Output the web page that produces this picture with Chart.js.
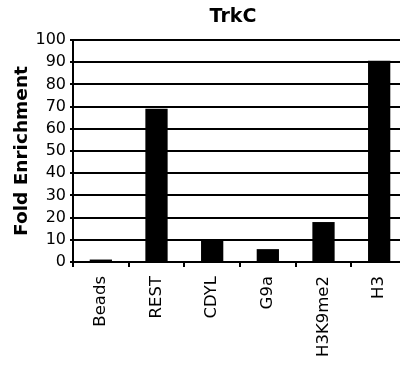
<!DOCTYPE html>
<html>
<head>
<meta charset="utf-8">
<script src="https://cdn.jsdelivr.net/npm/chart.js@4/dist/chart.umd.min.js"></script>
<style>
  html, body { margin: 0; padding: 0; background: #fff; overflow: hidden; }
  canvas { display: block; }
</style>
</head>
<body>
<canvas id="grafico" width="466" height="371"></canvas>
<script>
const categories = ["Beads", "REST", "CDYL", "G9a", "H3K9me2", "H3"];
const foldEnrichment = [1.1, 69, 10.2, 5.8, 18, 90.6];
const yTicks = [0, 10, 20, 30, 40, 50, 60, 70, 80, 90, 100];

const ctx = document.getElementById("grafico").getContext("2d");

// el titulo va centrado sobre todo el lienzo, no sobre el area con padding
const tituloCentrado = {
  id: "tituloCentrado",
  afterLayout: (chart) => {
    const t = chart.titleBlock;
    if (t) {
      t.left = 0;
      t.right = chart.width;
      t.width = chart.width;
    }
  },
};

const grafico = new Chart(ctx, {
  type: "bar",
  data: {
    labels: categories,
    datasets: [
      {
        data: foldEnrichment,
        backgroundColor: "#000",
        borderWidth: 0,
        barPercentage: 0.4,
        categoryPercentage: 1,
      },
    ],
  },
  plugins: [tituloCentrado],
  options: {
    responsive: false,
    animation: false,
    devicePixelRatio: 1,
    layout: { padding: { top: 0, right: 59, bottom: 0, left: 0 } },
    plugins: {
      legend: { display: false },
      tooltip: { enabled: false },
      title: {
        display: true,
        text: "TrkC",
        color: "#000",
        font: { family: "DejaVu Sans", size: 19, weight: "bold" },
        padding: { top: 5.5, bottom: 11.7 },
      },
    },
    scales: {
      x: {
        grid: {
          display: true,
          drawOnChartArea: false,
          drawTicks: true,
          tickLength: 5,
          color: "#000",
          lineWidth: 2,
          offset: true,
        },
        border: { display: true, color: "#000", width: 2 },
        ticks: {
          color: "#000",
          font: { family: "DejaVu Sans", size: 16.5 },
          minRotation: 90,
          maxRotation: 90,
          padding: 9,
        },
        afterFit: (scale) => {
          scale.height = 109;
        },
      },
      y: {
        min: 0,
        max: 100,
        afterBuildTicks: (scale) => {
          scale.ticks = yTicks.map((v) => ({ value: v }));
        },
        grid: {
          color: "#000",
          lineWidth: 2,
          tickLength: 3,
        },
        border: { display: true, color: "#000", width: 2 },
        ticks: {
          color: "#000",
          font: { family: "DejaVu Sans", size: 16 },
          padding: 4,
        },
        title: {
          display: true,
          text: "Fold Enrichment",
          color: "#000",
          font: { family: "DejaVu Sans", size: 18.5, weight: "bold" },
          padding: { top: 11, bottom: 0 },
        },
        afterFit: (scale) => {
          scale.width = 73;
        },
      },
    },
  },
});
</script>
</body>
</html>
